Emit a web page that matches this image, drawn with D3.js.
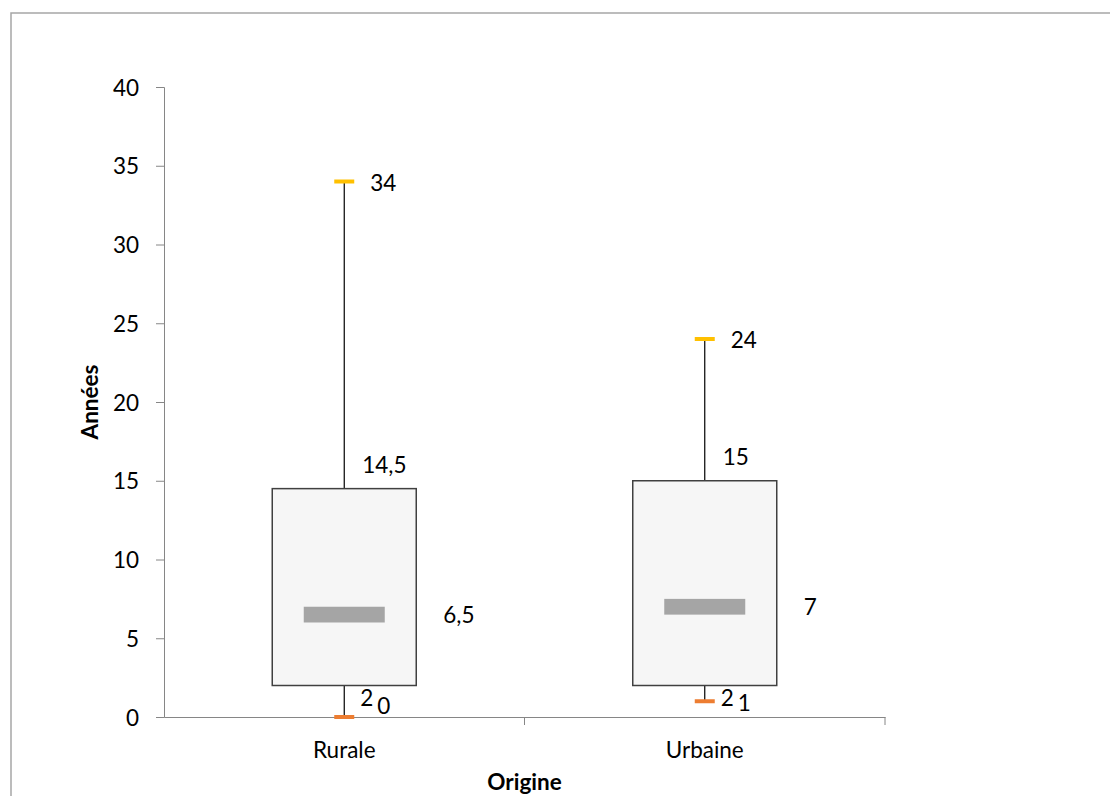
<!DOCTYPE html>
<html><head><meta charset="utf-8">
<script src="https://cdn.jsdelivr.net/npm/d3@7"></script>
<style>body{margin:0;background:#fff}svg{display:block}text{font-family:Lato,"Open Sans",sans-serif;fill:#000}</style>
</head><body><svg id="c" width="1110" height="796"></svg>
<script>
const categories = ["Rurale", "Urbaine"];
const minVals = [0, 1];
const q1Vals = [2, 2];
const medianVals = [6.5, 7];
const q3Vals = [14.5, 15];
const maxVals = [34, 24];
const minLabels = ["0", "1"];
const q1Labels = ["2", "2"];
const medianLabels = ["6,5", "7"];
const q3Labels = ["14,5", "15"];
const maxLabels = ["34", "24"];
const yTicks = [0, 5, 10, 15, 20, 25, 30, 35, 40];
const yTitle = "Années";
const xTitle = "Origine";

const data = categories.map((c, i) => ({
  cat: c, min: minVals[i], q1: q1Vals[i], med: medianVals[i], q3: q3Vals[i], max: maxVals[i],
  lmin: minLabels[i], lq1: q1Labels[i], lmed: medianLabels[i], lq3: q3Labels[i], lmax: maxLabels[i]
}));

const FS = "22.5px";
const svg = d3.select("#c");
const mL = 164, mR = 885, mT = 87, mB = 717;
const x = d3.scaleBand().domain(categories).range([mL, mR]).padding(0);
const y = d3.scaleLinear().domain([0, 40]).range([mB, mT]);

// outer border
svg.append("rect").attr("x", 11).attr("y", 13).attr("width", 1120).attr("height", 800)
  .attr("fill", "none").attr("stroke", "#a6a6a6").attr("stroke-width", 1.5);

// y axis
const yAxis = svg.append("g").attr("transform", `translate(${mL},0)`)
  .call(d3.axisLeft(y).tickValues(yTicks).tickSize(8).tickPadding(17).tickFormat(d3.format("d")));
yAxis.select(".domain").attr("stroke", "#868686");
yAxis.selectAll(".tick line").attr("stroke", "#868686");
yAxis.selectAll("text").style("font-size", FS).attr("dy", "0.36em");

// x axis
const xAxis = svg.append("g").attr("transform", `translate(0,${mB})`)
  .call(d3.axisBottom(x).tickSize(0).tickPadding(25));
xAxis.select(".domain").attr("stroke", "#868686");
xAxis.selectAll("text").style("font-size", FS);
// category separators
svg.append("g").selectAll("line").data(categories).join("line")
  .attr("x1", d => x(d) + x.bandwidth()).attr("x2", d => x(d) + x.bandwidth())
  .attr("y1", mB).attr("y2", mB + 8).attr("stroke", "#868686");

// titles
svg.append("text").attr("x", (mL + mR) / 2).attr("y", 790)
  .attr("text-anchor", "middle").style("font-size", FS).style("font-weight", "bold").text(xTitle);
svg.append("text").attr("transform", `translate(90,${402}) rotate(-90)`).attr("dy", "0.36em")
  .attr("text-anchor", "middle").style("font-size", FS).style("font-weight", "bold").text(yTitle);

const boxW = 144, medW = 81, capW = 20;
const g = svg.append("g").selectAll("g").data(data).join("g")
  .attr("transform", d => `translate(${x(d.cat) + x.bandwidth() / 2},0)`);

// whiskers
g.append("line").attr("x1", 0).attr("x2", 0).attr("y1", d => y(d.max)).attr("y2", d => y(d.q3))
  .attr("stroke", "#000").attr("stroke-width", 1.2);
g.append("line").attr("x1", 0).attr("x2", 0).attr("y1", d => y(d.q1)).attr("y2", d => y(d.min))
  .attr("stroke", "#000").attr("stroke-width", 1.2);
// box
g.append("rect").attr("x", -boxW / 2).attr("width", boxW)
  .attr("y", d => y(d.q3)).attr("height", d => y(d.q1) - y(d.q3))
  .attr("fill", "#f6f6f6").attr("stroke", "#404040").attr("stroke-width", 1.5);
// median bar
g.append("rect").attr("x", -medW / 2).attr("width", medW)
  .attr("y", d => y(d.med + 0.5)).attr("height", d => y(d.med - 0.5) - y(d.med + 0.5))
  .attr("fill", "#a5a5a5");
// caps
g.append("line").attr("x1", -capW / 2).attr("x2", capW / 2).attr("y1", d => y(d.max)).attr("y2", d => y(d.max))
  .attr("stroke", "#ffc000").attr("stroke-width", 4);
g.append("line").attr("x1", -capW / 2).attr("x2", capW / 2).attr("y1", d => y(d.min)).attr("y2", d => y(d.min))
  .attr("stroke", "#ed7d31").attr("stroke-width", 4);

// labels
const lbl = (sel) => sel.style("font-size", FS).attr("dy", "0.36em");
g.append("text").call(lbl).attr("x", 26).attr("y", d => y(d.max) + 1).text(d => d.lmax);
g.append("text").call(lbl).attr("x", 18).attr("y", d => y(d.q3) - 24).text(d => d.lq3);
g.append("text").call(lbl).attr("x", boxW / 2 + 27).attr("y", d => y(d.med)).text(d => d.lmed);
g.append("text").call(lbl).attr("x", 16).attr("y", d => y(d.q1) + 12).text(d => d.lq1);
g.append("text").call(lbl).attr("x", 33).attr("y", d => Math.min(y(d.min) + 2, y(d.q1) + 20)).text(d => d.lmin);
</script></body></html>
